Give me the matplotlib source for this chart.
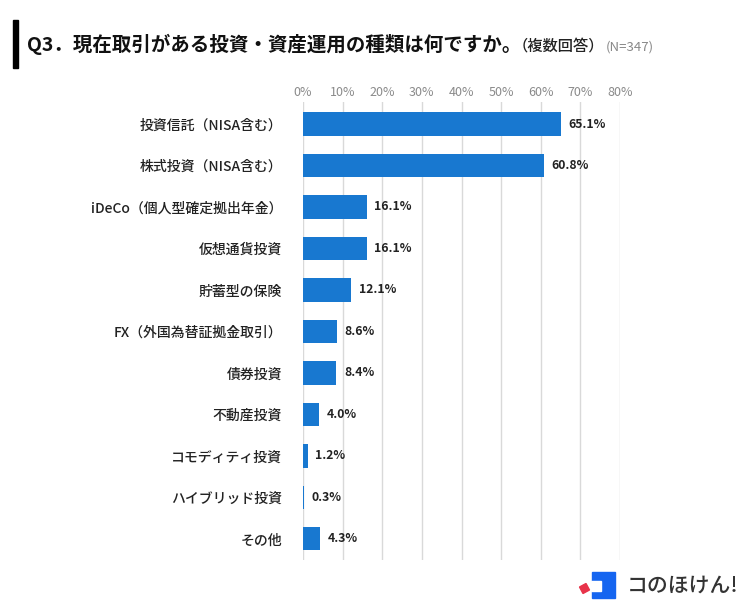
import matplotlib.pyplot as plt
from matplotlib.patches import Rectangle, Polygon

plt.rcParams['font.family'] = ['Noto Sans CJK JP', 'DejaVu Sans']

# Дані
categories = ["投資信託（NISA含む）", "株式投資（NISA含む）", "iDeCo（個人型確定拠出年金）",
              "仮想通貨投資", "貯蓄型の保険", "FX（外国為替証拠金取引）", "債券投資",
              "不動産投資", "コモディティ投資", "ハイブリッド投資", "その他"]
values = [65.1, 60.8, 16.1, 16.1, 12.1, 8.6, 8.4, 4.0, 1.2, 0.3, 4.3]
ticks = [0, 10, 20, 30, 40, 50, 60, 70, 80]

bar_color = "#1878d0"

fig = plt.figure(figsize=(7.5, 6.15), dpi=100)
ax = fig.add_axes([0.404, 0.0894, 0.4227, 0.7447])

y = list(range(len(categories)))
ax.barh(y, values, height=0.56, color=bar_color, zorder=3)

ax.set_xlim(0, 80)
ax.set_ylim(10.51, -0.53)
ax.set_xticks(ticks)
ax.set_xticklabels([f"{t}%" for t in ticks], color="#8a8a8a", fontsize=9)
ax.xaxis.tick_top()
ax.tick_params(axis="x", length=0, pad=2)
ax.set_yticks(y)
ax.set_yticklabels(categories, fontsize=10, color="#222222", fontweight="medium")
ax.tick_params(axis="y", length=0, pad=15)
ax.grid(axis="x", color="#d9d9d9", linewidth=1, zorder=0)
for s in ax.spines.values():
    s.set_visible(False)

for yi, v in zip(y, values):
    ax.annotate(f"{v:.1f}%", (v, yi), xytext=(5.5, 0), textcoords="offset points",
                va="center", ha="left", fontsize=8.8, fontweight="bold", color="#222222")

# Заголовок
base = 1 - 51 / 615
fig.patches.append(Rectangle((13 / 750, 1 - 68 / 615), 5 / 750, 48 / 615,
                             transform=fig.transFigure, color="black"))
t1 = fig.text(27 / 750, base, "Q3．現在取引がある投資・資産運用の種類は何ですか。",
              fontsize=14, fontweight="bold", va="baseline", color="#111111")
fig.canvas.draw()
bb = t1.get_window_extent()
t2 = fig.text(bb.x1 / 750 - 0.012, base, "（複数回答）", fontsize=11,
              va="baseline", color="#222222", fontweight="medium")
fig.canvas.draw()
bb2 = t2.get_window_extent()
fig.text(bb2.x1 / 750 + 0.002, base, "(N=347)", fontsize=9.5,
         va="baseline", color="#888888")

# Логотип
fig.patches.append(Rectangle((592 / 750, 1 - 598 / 615), 23 / 750, 26 / 615,
                             transform=fig.transFigure, color="#1565f0"))
fig.patches.append(Rectangle((591 / 750, 1 - 591 / 615), 10 / 750, 10 / 615,
                             transform=fig.transFigure, color="white"))
cx, cy, r = 584.5, 588.5, 5
fig.patches.append(Polygon([((cx - r) / 750, 1 - (cy - 1.5) / 615), ((cx + 1.5) / 750, 1 - (cy - r) / 615),
                            ((cx + r) / 750, 1 - (cy + 1.5) / 615), ((cx - 1.5) / 750, 1 - (cy + r) / 615)],
                           closed=True, transform=fig.transFigure, color="#e8334a"))
fig.text(627 / 750, 1 - 586 / 615, "コのほけん!", fontsize=15, va="center",
         color="#333333", fontweight="medium")

fig.savefig("out.png", dpi=100)
